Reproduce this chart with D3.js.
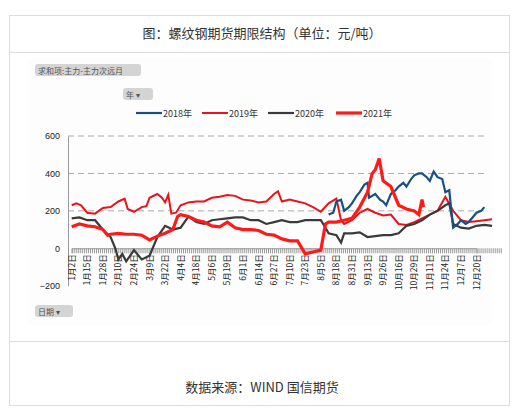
<!DOCTYPE html><html><head><meta charset="utf-8"><script src="https://cdn.jsdelivr.net/npm/d3@7"></script>
<style>body{margin:0;background:#fff;font-family:"Noto Sans CJK SC",sans-serif}</style></head><body><svg id="c" width="527" height="414"></svg>
<script>
const tickLabels=["1月2日","1月15日","1月28日","2月10日","2月24日","3月9日","3月22日","4月4日","4月18日","5月6日","5月19日","6月1日","6月14日","6月27日","7月10日","7月23日","8月5日","8月18日","8月31日","9月13日","9月26日","10月16日","10月29日","11月11日","11月24日","12月7日","12月20日"];
const yTicks=[-200,0,200,400,600];
const seriesNames=["2018年","2019年","2020年","2021年"];
const s2018=[[16.5,180],[16.8,190],[17,250],[17.3,260],[17.5,200],[17.8,220],[18,240],[18.3,280],[18.5,300],[18.8,340],[19,350],[19.1,270],[19.5,290],[19.8,260],[20,250],[20.2,230],[20.5,290],[20.8,310],[21,330],[21.3,350],[21.5,330],[21.8,370],[22,390],[22.3,400],[22.5,400],[22.8,380],[23,360],[23.25,410],[23.5,380],[23.8,370],[24,300],[24.25,310],[24.5,110],[24.8,130],[25,150],[25.3,130],[25.5,140],[25.8,170],[26,190],[26.3,200],[26.5,220]];
const s2019=[[0,230],[0.3,240],[0.6,230],[1,190],[1.5,185],[2,215],[2.5,220],[3,250],[3.4,265],[3.6,210],[4,195],[4.5,220],[4.8,225],[5,270],[5.5,290],[5.8,270],[6,245],[6.2,285],[6.4,185],[6.7,190],[7,230],[7.5,245],[8,250],[8.5,250],[9,270],[9.5,275],[10,285],[10.5,280],[11,260],[11.5,255],[12,245],[12.5,250],[13,290],[13.25,305],[13.5,250],[14,260],[14.5,250],[15,240],[15.5,220],[16,195],[16.5,240],[17,265],[17.3,150],[17.5,130],[18,150],[18.5,190],[19,210],[19.5,190],[20,175],[20.5,180],[21,130],[21.5,125],[22,140],[22.5,160],[23,180],[23.5,200],[24,275],[24.5,200],[25,150],[25.5,140],[26,145],[26.5,150],[27,155]];
const s2020=[[0,160],[0.5,165],[1,150],[1.5,150],[2,100],[2.5,60],[2.8,0],[3,-60],[3.25,-30],[3.5,-70],[4,-10],[4.5,-60],[5,-40],[5.5,60],[6,120],[6.5,100],[7,110],[7.5,170],[8,140],[8.5,130],[9,150],[9.5,155],[10,160],[10.5,165],[11,165],[11.5,150],[12,150],[12.5,130],[13,140],[13.5,150],[14,140],[14.5,140],[15,150],[15.5,150],[16,150],[16.3,110],[16.5,80],[17,70],[17.3,30],[17.5,80],[18,80],[18.5,85],[19,60],[19.5,65],[20,70],[20.5,70],[21,80],[21.5,120],[22,130],[22.5,150],[23,180],[23.5,200],[24,230],[24.25,240],[24.5,130],[25,110],[25.5,105],[26,120],[26.5,125],[27,120]];
const s2021=[[0,115],[0.5,130],[1,120],[1.5,115],[2,100],[2.3,70],[2.5,75],[3,80],[3.5,75],[4,75],[4.5,70],[5,45],[5.5,65],[6,80],[6.5,100],[6.8,170],[7,180],[7.5,170],[8,150],[8.5,140],[9,120],[9.5,115],[10,140],[10.5,110],[11,100],[11.5,100],[12,95],[12.5,75],[13,70],[13.5,50],[14,40],[14.5,40],[15,-30],[15.5,-20],[16,-10],[16.3,130],[16.5,140],[17,140],[17.5,150],[18,160],[18.5,220],[19,300],[19.3,400],[19.5,420],[19.75,480],[20,360],[20.5,330],[21,230],[21.5,210],[22,200],[22.3,180],[22.5,260],[22.6,220]];
const svg=d3.select("#c");
svg.append("rect").attr("x",9.5).attr("y",15.5).attr("width",500).attr("height",390).attr("fill","none").attr("stroke","#ddd");
svg.append("line").attr("x1",9).attr("x2",510).attr("y1",52.5).attr("y2",52.5).attr("stroke","#ddd");
svg.append("line").attr("x1",9).attr("x2",510).attr("y1",341.5).attr("y2",341.5).attr("stroke","#ddd");
svg.append("text").attr("x",262).attr("y",38).attr("text-anchor","middle").attr("font-size",13).attr("fill","#333").text("图：螺纹钢期货期限结构（单位：元/吨）");
svg.append("text").attr("x",262).attr("y",392).attr("text-anchor","middle").attr("font-size",13).attr("fill","#333").text("数据来源：WIND 国信期货");
svg.append("rect").attr("x",27).attr("y",58).attr("width",465).attr("height",267).attr("fill","#fdfdfd");
function btn(x,y,w,t){svg.append("rect").attr("x",x).attr("y",y).attr("width",w).attr("height",12).attr("rx",3).attr("fill","#d4d4d4");
 svg.append("text").attr("x",x+3).attr("y",y+9.5).attr("font-size",8).attr("fill","#555").text(t);}
btn(35,64,106,"求和项:主力-主力次远月");btn(123,88,30,"年 ▾");btn(35,305,38,"日期 ▾");
const x=d3.scaleLinear().domain([0,26]).range([71.7,476.5]);
const y=d3.scaleLinear().domain([-200,600]).range([285.7,136]);
const g=svg.append("g");
yTicks.forEach(v=>{if(v>0)g.append("line").attr("x1",68).attr("x2",488).attr("y1",y(v)).attr("y2",y(v)).attr("stroke","#aaa").attr("stroke-dasharray","6,4");});
g.append("g").attr("transform","translate(68,0)").call(d3.axisLeft(y).tickValues(yTicks).tickSize(0).tickPadding(8)).call(a=>a.select(".domain").attr("stroke","#999")).selectAll("text").attr("font-size",9).attr("fill","#222").attr("font-family","Liberation Sans");
g.append("g").attr("transform",`translate(0,${y(0)})`).call(d3.axisBottom(x).tickValues(d3.range(0,27.6,0.13)).tickSize(5).tickFormat("")).call(a=>{a.select(".domain").attr("stroke","#999");a.selectAll("line").attr("stroke","#999");});
tickLabels.forEach((t,i)=>g.append("text").attr("transform",`translate(${x(i)+3},${y(0)+6}) rotate(-90)`).attr("text-anchor","end").attr("font-size",8.5).attr("fill","#222").text(t));
const line=d3.line().x(d=>x(d[0])).y(d=>y(d[1]));
const cfg=[[s2019,"#e8141b",2],[s2020,"#3a3a3a",2.2],[s2018,"#1a4f86",2.2],[s2021,"#ff1a1a",3.2]];
cfg.forEach(([d,c,w])=>g.append("path").datum(d).attr("d",line).attr("fill","none").attr("stroke",c).attr("stroke-width",w));
const leg=[[136,"#1a4f86",2.2],[202,"#e8141b",2],[268,"#3a3a3a",2.2],[336,"#ff1a1a",3.2]];
leg.forEach(([lx,c,w],i)=>{svg.append("line").attr("x1",lx).attr("x2",lx+26).attr("y1",113).attr("y2",113).attr("stroke",c).attr("stroke-width",w);
 svg.append("text").attr("x",lx+27).attr("y",117).attr("font-size",9).attr("fill","#333").text(seriesNames[i]);});
</script></body></html>
